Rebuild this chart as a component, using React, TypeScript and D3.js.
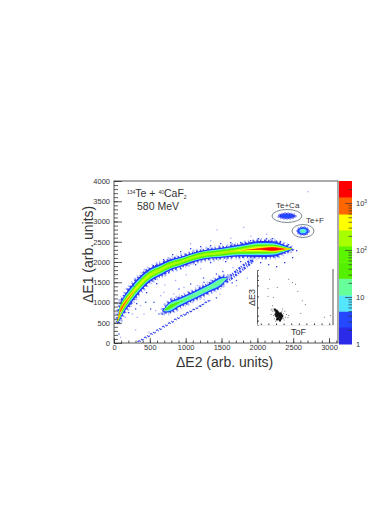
import React, { useEffect, useRef } from "react";
import * as d3 from "d3";

const xTicks = [0, 500, 1000, 1500, 2000, 2500, 3000];
const yTicks = [0, 500, 1000, 1500, 2000, 2500, 3000, 3500, 4000];

// colour levels of the palette (counts per bin), log z axis
const levels = [1, 2.3, 5, 11, 25, 55, 122, 268, 585, 1350, 2950];
const palette = ["#2a2ae8", "#2447ff", "#55e6ff", "#66ff99", "#55f000", "#5cf500", "#a8ff00", "#ffff00", "#ff6600", "#ff0000"];

// main Te ridge: centre line and half height of each contour
const mainE2 = [50, 84, 126, 223, 363, 502, 642, 781, 921, 1060, 1241, 1479, 1758, 2037, 2218, 2385, 2490];
const mainE1 = [540, 765, 913, 1160, 1457, 1679, 1802, 1925, 2000, 2086, 2173, 2222, 2284, 2321, 2321, 2321, 2325];
const mainContours: [number, number[]][] = [
  [1, [60, 190, 200, 210, 190, 165, 150, 135, 125, 120, 115, 125, 150, 200, 190, 90, 10]],
  [2.3, [50, 170, 180, 185, 165, 145, 130, 115, 105, 100, 100, 110, 130, 175, 170, 75, 0]],
  [5, [40, 150, 155, 150, 135, 120, 105, 95, 90, 85, 85, 95, 110, 150, 140, 60, 0]],
  [11, [35, 135, 135, 125, 115, 100, 90, 85, 80, 78, 75, 85, 95, 130, 120, 50, 0]],
  [25, [30, 115, 115, 105, 95, 85, 75, 72, 68, 65, 65, 70, 82, 110, 105, 42, 0]],
  [122, [25, 85, 80, 70, 58, 50, 42, 38, 32, 30, 28, 30, 45, 75, 80, 30, 0]],
  [268, [20, 65, 55, 35, 15, 5, 0, 0, 0, 0, 0, 0, 10, 50, 62, 22, 0]],
  [585, [15, 45, 35, 15, 0, 0, 0, 0, 0, 0, 0, 0, 0, 25, 48, 14, 0]],
  [1350, [0, 0, 0, 0, 0, 0, 0, 0, 0, 0, 0, 0, 0, 12, 38, 0, 0]],
];

// second ridge
const secondE2 = [690, 753, 921, 1130, 1339, 1507, 1580];
const secondE1 = [790, 864, 1012, 1185, 1370, 1531, 1610];
const secondContours: [number, number[]][] = [
  [1, [30, 110, 110, 105, 105, 105, 15]],
  [2.3, [20, 100, 95, 92, 92, 92, 0]],
  [5, [0, 80, 75, 70, 70, 70, 0]],
  [11, [0, 60, 55, 50, 50, 50, 0]],
  [25, [0, 40, 15, 0, 0, 0, 0]],
];

// faint streaks
const tailE2 = [1562, 1688, 1827, 1925];
const tailE1 = [1531, 1704, 1901, 2025];
const tailHalf = [35, 45, 45, 35];
const laneE2 = [335, 502, 711, 921, 1130, 1339];
const laneE1 = [25, 198, 420, 642, 840, 1062];
const laneHalf = [14, 18, 18, 16, 12, 10];

// gated blobs: level, radius E2, radius E1
const caCentre = [2413, 3136];
const caBlob = [[1, 125, 72], [2.3, 90, 50]];
const fCentre = [2637, 2765];
const fBlob = [[1, 84, 100], [2.3, 76, 88], [5, 50, 58], [11, 24, 32]];
const rings = [
  { name: "Te+Ca", e2: 2413, e1: 3136, rx: 209, ry: 160 },
  { name: "Te+F", e2: 2637, e1: 2765, rx: 153, ry: 160 },
];

const upperEdge = [[265, 1431], [363, 1629], [460, 1777], [572, 1925], [683, 2074], [809, 2197], [921, 2271], [1060, 2345], [1200, 2395], [1339, 2420], [1479, 2469], [1618, 2494], [1758, 2494], [1897, 2543], [2009, 2593], [2120, 2593], [2204, 2593], [2315, 2519], [2427, 2445], [2539, 2296]];
const lowerEdge = [[195, 765], [307, 988], [446, 1259], [586, 1481], [753, 1753], [921, 1852], [1130, 1950], [1339, 2000], [1549, 2025], [1758, 2025], [1925, 2025], [2037, 2000], [2148, 1950], [2260, 1901], [2372, 2000], [2483, 2123]];
const scatterDark = [[223, 979], [293, 856], [432, 1020], [502, 856], [618, 732], [665, 732], [549, 1020], [781, 1102], [897, 1349], [1060, 1473], [1246, 1514], [781, 773], [60, 238], [1000, 730], [1200, 920], [1420, 1130], [1640, 1500], [1700, 1560], [1420, 1720], [1510, 1780], [1240, 1620]];
const scatterLight = [[362, 938], [642, 1185], [572, 814], [409, 732], [316, 650], [153, 650], [246, 732], [83, 773], [83, 156], [293, 337], [479, 280], [688, 1267], [827, 1226], [967, 1390], [1153, 1432], [711, 814], [1060, 2470], [1340, 2540], [1620, 2600], [1900, 2650], [2120, 2700], [2700, 3752], [1800, 2870], [1430, 2810], [1650, 1880], [1200, 1850], [1000, 1700], [850, 1560], [700, 1450], [1250, 1080], [1470, 1220], [1700, 1430], [1850, 1620]];

// inset, ToF against dE3 (arbitrary units)
const insetSparse = [[16, 84], [26, 69], [41, 84], [46, 78], [50, 75], [53, 62], [14, 67], [14, 53], [21, 51], [59, 45], [63, 38], [57, 22], [96, 18], [88, 15], [41, 18], [37, 15], [34, 13], [20, 36], [19, 30], [36, 26], [38, 20], [40, 14], [18, 20], [33, 30], [20, 26], [21, 18], [22, 12], [24, 8], [35, 10], [34, 22], [18, 28], [32, 26]];
const insetDense = [[22, 30], [23, 28], [24, 28], [24, 24], [25, 27], [25, 22], [26, 25], [26, 19], [27, 24], [27, 20], [27, 15], [28, 22], [28, 18], [28, 12], [29, 20], [29, 16], [29, 10], [30, 18], [30, 13], [31, 15], [25, 17], [23, 21], [32, 18], [26, 13], [24, 18], [30, 23], [25, 12], [31, 20]];
const insetXTicks = [5, 15, 25, 35, 45, 55, 65, 75, 85, 95];
const insetYTicks = [8, 17, 32, 52, 72, 82, 90];

const font = "'Liberation Sans', Arial, sans-serif";
const ink = "#333";

const App = () => {
  const mySVGRef = useRef<SVGSVGElement>(null);

  useEffect(() => {
    const svg = d3.select(mySVGRef.current);
    svg.selectAll("*").remove();

    const x = d3.scaleLinear().domain([0, 3125]).range([114, 338]);
    const y = d3.scaleLinear().domain([0, 4000]).range([343, 181]);
    const z = d3.scaleLog().domain([1, 2950]).range([344, 181]);
    const color = d3.scaleThreshold<number, string>().domain(levels.slice(1, -1)).range(palette);

    svg
      .append("filter")
      .attr("id", "soft")
      .append("feGaussianBlur")
      .attr("stdDeviation", 0.4);
    const marks = svg.append("g").attr("filter", "url(#soft)");

    const ridgePath = (e2: number[], e1: number[], half: number[]) =>
      d3
        .area<number>()
        .x((d) => x(d))
        .y0((d, i) => y(e1[i] - half[i]))
        .y1((d, i) => y(e1[i] + half[i]))
        .curve(d3.curveMonotoneX)(e2);

    // broken outline so the rim of a contour looks like sparse bins
    const rim = (d: string | null, stroke: string, width: number, dash: string) => {
      marks
        .append("path")
        .attr("d", d)
        .attr("fill", "none")
        .attr("stroke", stroke)
        .attr("stroke-width", width)
        .attr("stroke-dasharray", dash);
    };

    const drawRidge = (e2: number[], e1: number[], contours: [number, number[]][]) => {
      const outer = ridgePath(e2, e1, contours[0][1]);
      rim(outer, "#b4bbfb", 6, "1 3 2 2 1 4");
      rim(outer, "#3a50f2", 2.8, "1.5 2 1 3 2 2");
      contours.forEach(([level, half]) => {
        marks.append("path").attr("d", ridgePath(e2, e1, half)).attr("fill", color(level));
      });
    };

    rim(ridgePath(laneE2, laneE1, laneHalf), "#3a4cf0", 1.2, "2 1.5 1 2.5");
    rim(ridgePath(tailE2, tailE1, tailHalf), "#2f45f2", 2.5, "2 1 1 1.5");
    drawRidge(mainE2, mainE1, mainContours);
    drawRidge(secondE2, secondE1, secondContours);

    const drawBlob = (centre: number[], blob: number[][]) => {
      blob.forEach(([level, rx, ry], i) => {
        const e = marks
          .append("ellipse")
          .attr("cx", x(centre[0]))
          .attr("cy", y(centre[1]))
          .attr("rx", x(rx) - x(0))
          .attr("ry", y(0) - y(ry))
          .attr("fill", color(level));
        if (i === 0) e.attr("stroke", "#8f9afa").attr("stroke-width", 2).attr("stroke-dasharray", "1.5 1.5");
      });
    };
    drawBlob(caCentre, caBlob);
    drawBlob(fCentre, fBlob);

    const specks = (pts: number[][], fill: string) => {
      marks
        .append("g")
        .selectAll("rect")
        .data(pts)
        .join("rect")
        .attr("x", (d) => x(d[0]))
        .attr("y", (d) => y(d[1]))
        .attr("width", 1.3)
        .attr("height", 1.3)
        .attr("fill", fill);
    };
    specks(upperEdge, "#2a3cf0");
    specks(lowerEdge, "#2a3cf0");
    specks(scatterDark, "#3a4cf0");
    specks(scatterLight, "#a6aefb");

    // rings round the gated groups
    rings.forEach((r) => {
      svg
        .append("ellipse")
        .attr("cx", x(r.e2))
        .attr("cy", y(r.e1))
        .attr("rx", x(r.rx) - x(0))
        .attr("ry", y(0) - y(r.ry))
        .attr("fill", "none")
        .attr("stroke", "#5b6b72")
        .attr("stroke-width", 0.8);
    });
    svg.append("text").attr("x", 276).attr("y", 208).attr("font-size", 8).text(rings[0].name);
    svg.append("text").attr("x", 306).attr("y", 223).attr("font-size", 8).text(rings[1].name);

    // inset
    const tof = d3.scaleLinear().domain([0, 100]).range([257, 333]);
    const e3 = d3.scaleLinear().domain([0, 100]).range([325, 270]);
    svg.append("rect").attr("x", 257).attr("y", 270).attr("width", 76).attr("height", 55).attr("fill", "white");
    svg
      .append("g")
      .selectAll("rect")
      .data(insetSparse)
      .join("rect")
      .attr("x", (d) => tof(d[0]))
      .attr("y", (d) => e3(d[1]))
      .attr("width", 1)
      .attr("height", 1)
      .attr("fill", "#777");
    svg
      .append("g")
      .selectAll("rect")
      .data(insetDense)
      .join("rect")
      .attr("x", (d) => tof(d[0]))
      .attr("y", (d) => e3(d[1]))
      .attr("width", 2)
      .attr("height", 2)
      .attr("fill", "#111");
    const insetLeft = svg.append("g").attr("transform", "translate(257,0)").call(d3.axisLeft(e3).tickValues(insetYTicks).tickSize(-2).tickFormat(() => ""));
    insetLeft.select(".domain").attr("stroke", "#555").attr("stroke-width", 0.9);
    insetLeft.selectAll(".tick line").attr("stroke", "#444");
    const insetBottom = svg.append("g").attr("transform", "translate(0,325)").call(d3.axisBottom(tof).tickValues(insetXTicks).tickSize(-1.5).tickFormat(() => ""));
    insetBottom.select(".domain").attr("stroke", "#ddd").attr("stroke-width", 0.6);
    insetBottom.selectAll(".tick line").attr("stroke", "#333");
    svg.append("line").attr("x1", tof(100)).attr("x2", tof(100)).attr("y1", e3(100) - 1).attr("y2", e3(0)).attr("stroke", "#444").attr("stroke-width", 0.9);
    svg.append("text").attr("x", 291).attr("y", 335).attr("font-size", 9).text("ToF");
    svg.append("text").attr("transform", "translate(255,306) rotate(-90)").attr("font-size", 9).text("ΔE3");

    // palette
    d3.pairs(levels).forEach(([a, b], i) => {
      svg
        .append("rect")
        .attr("x", 339)
        .attr("width", 13)
        .attr("y", z(b))
        .attr("height", z(a) - z(b) + 0.5)
        .attr("fill", palette[i]);
    });
    const zMinor = [2, 3, 4, 5, 6, 7, 8, 9, 20, 30, 40, 50, 60, 70, 80, 90, 200, 300, 400, 500, 600, 700, 800, 900, 2000];
    const zAxis = svg.append("g").attr("transform", "translate(352,0)").call(d3.axisRight(z).tickValues(zMinor).tickSize(-3.5).tickFormat(() => ""));
    zAxis.select(".domain").remove();
    zAxis.selectAll(".tick line").attr("stroke", "#333").attr("stroke-width", 0.7);
    const zMajor = svg.append("g").attr("transform", "translate(352,0)").call(d3.axisRight(z).tickValues([10, 100, 1000]).tickSize(-7).tickFormat(() => ""));
    zMajor.select(".domain").remove();
    zMajor.selectAll(".tick line").attr("stroke", "#333").attr("stroke-width", 0.7);
    svg.append("text").attr("x", 356).attr("y", z(1) + 3).attr("font-size", 7.5).text("1");
    svg.append("text").attr("x", 356).attr("y", z(10) + 3).attr("font-size", 7.5).text("10");
    [[100, "2"], [1000, "3"]].forEach(([v, p]) => {
      const t = svg.append("text").attr("x", 356).attr("y", z(v as number) + 3).attr("font-size", 7.5).text("10");
      t.append("tspan").attr("dy", -3).attr("font-size", 5).text(p as string);
    });

    // frame and axes
    svg.append("rect").attr("x", 114).attr("y", 181).attr("width", 224).attr("height", 162).attr("fill", "none").attr("stroke", "#444").attr("stroke-width", 0.9);
    const styleAxis = (g: any) => {
      g.select(".domain").remove();
      g.selectAll(".tick line").attr("stroke", "#333").attr("stroke-width", 0.8);
      g.selectAll(".tick text").attr("fill", ink).attr("font-family", font).attr("font-size", 7.5);
    };
    const xMinor = d3.range(0, 3101, 100);
    const yMinor = d3.range(0, 4001, 100);
    svg.append("g").attr("transform", "translate(0,343)").call(d3.axisBottom(x).tickValues(xMinor).tickSize(-2.5).tickFormat(() => "")).call(styleAxis);
    svg.append("g").attr("transform", "translate(114,0)").call(d3.axisLeft(y).tickValues(yMinor).tickSize(-4).tickFormat(() => "")).call(styleAxis);
    svg.append("g").attr("transform", "translate(0,343)").call(d3.axisBottom(x).tickValues(xTicks).tickSize(-5).tickPadding(2).tickFormat(d3.format("d"))).call(styleAxis);
    svg.append("g").attr("transform", "translate(114,0)").call(d3.axisLeft(y).tickValues(yTicks).tickSize(-8).tickPadding(4).tickFormat(d3.format("d"))).call(styleAxis);

    svg.append("text").attr("x", 176).attr("y", 367).attr("font-size", 14).text("ΔE2 (arb. units)");
    svg.append("text").attr("transform", "translate(93,303) rotate(-90)").attr("font-size", 14).text("ΔE1 (arb. units)");

    const title = svg.append("text").attr("x", 127).attr("y", 197).attr("font-size", 10.5);
    title.append("tspan").attr("font-size", 5).attr("dy", -3.5).text("134");
    title.append("tspan").attr("dy", 3.5).text("Te + ");
    title.append("tspan").attr("font-size", 5).attr("dy", -3.5).text("40");
    title.append("tspan").attr("dy", 3.5).text("CaF");
    title.append("tspan").attr("font-size", 5).attr("dy", 2).text("2");
    svg.append("text").attr("x", 137).attr("y", 210).attr("font-size", 10.5).text("580 MeV");
  }, []);

  return (
    <svg
      ref={mySVGRef}
      width={390}
      height={505}
      fontFamily={font}
      fill={ink}
      style={{ position: "absolute", left: 0, top: 0, background: "#fff" }}
    ></svg>
  );
};

export default App;
